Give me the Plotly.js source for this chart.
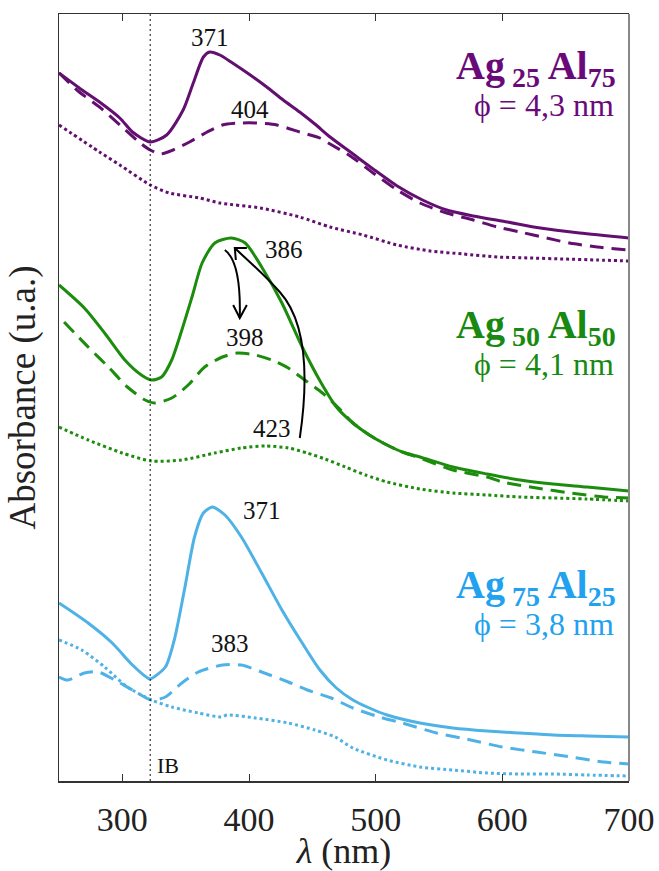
<!DOCTYPE html>
<html>
<head>
<meta charset="utf-8">
<script src="https://cdn.plot.ly/plotly-3.0.1.min.js"></script>
<style>html,body{margin:0;padding:0;background:#fff;}#chart{width:659px;height:871px;}</style>
</head>
<body>
<div id="chart"></div>
<script>
// ---- Ag25Al75 (purple) ----
const p_solid_x = [250,266,282,298,308,322,335,348,356,364,369,377,387,401,414,427,440,452,464,480,498,517,537,556,577,604,630,661,700];
const p_solid_y = [7.08,6.93,6.79,6.63,6.49,6.39,6.46,6.71,6.98,7.24,7.29,7.26,7.18,7.06,6.94,6.81,6.69,6.57,6.44,6.29,6.12,5.95,5.81,5.71,5.65,5.59,5.53,5.48,5.43];
const p_dash_x = [250,266,282,298,314,322,330,340,353,367,379,393,406,422,440,456,464,480,498,517,535,556,577,596,614,635,653,675,700];
const p_dash_y = [7.08,6.89,6.74,6.56,6.38,6.31,6.27,6.31,6.39,6.49,6.56,6.58,6.58,6.56,6.49,6.43,6.37,6.25,6.08,5.91,5.78,5.68,5.61,5.54,5.49,5.43,5.38,5.34,5.31];
const p_dot_x = [250,282,298,322,337,361,377,409,440,464,490,517,543,569,596,622,648,675,700];
const p_dot_y = [6.56,6.29,6.16,5.96,5.88,5.83,5.78,5.73,5.64,5.54,5.46,5.36,5.30,5.27,5.24,5.23,5.22,5.21,5.20];

// ---- Ag50Al50 (green) ----
const g_solid_x = [250,270,286,302,315,323,331,339,347,355,363,373,386,397,410,426,442,457,469,482,495,509,521,535,561,588,614,640,667,700];
const g_solid_y = [4.96,4.73,4.48,4.21,4.06,4.01,4.04,4.21,4.51,4.84,5.18,5.38,5.43,5.38,5.14,4.78,4.34,3.98,3.74,3.58,3.46,3.36,3.29,3.24,3.14,3.07,3.01,2.97,2.94,2.90];
const g_dash_x = [254,273,289,304,318,326,339,352,365,379,391,405,418,431,444,458,470,482,495,509,521,535,561,588,600,627,654,680,700];
const g_dash_y = [4.59,4.34,4.14,3.94,3.81,3.78,3.83,3.96,4.14,4.24,4.28,4.26,4.21,4.13,4.01,3.88,3.74,3.58,3.46,3.36,3.29,3.23,3.11,3.04,2.99,2.93,2.88,2.84,2.83];
const g_dot_x = [250,273,300,323,347,373,394,413,431,446,460,476,492,509,535,561,588,614,640,667,700];
const g_dot_y = [3.54,3.41,3.28,3.20,3.21,3.28,3.33,3.35,3.33,3.28,3.22,3.14,3.06,2.99,2.92,2.88,2.86,2.84,2.83,2.82,2.80];

// ---- Ag75Al25 (blue) ----
const b_solid_x = [250,273,292,308,320,322,334,341,349,357,364,371,381,394,410,426,442,456,469,482,495,509,535,561,588,614,640,667,700];
const b_solid_y = [1.78,1.58,1.38,1.16,1.03,1.02,1.14,1.41,1.91,2.44,2.68,2.74,2.66,2.44,2.08,1.71,1.38,1.11,0.93,0.81,0.73,0.66,0.58,0.53,0.50,0.48,0.46,0.45,0.44];
const b_dash_x = [250,257,270,281,294,308,323,334,347,360,379,394,410,431,446,465,482,503,521,548,575,600,627,654,680,700];
const b_dash_y = [1.04,1.01,1.08,1.09,1.01,0.91,0.81,0.84,0.98,1.09,1.16,1.16,1.09,0.99,0.91,0.83,0.73,0.64,0.58,0.48,0.41,0.34,0.29,0.24,0.19,0.17];
const b_dot_x = [250,268,286,304,323,339,360,378,383,405,431,452,468,482,509,535,561,588,614,640,667,700];
const b_dot_y = [1.41,1.31,1.14,0.94,0.81,0.74,0.68,0.64,0.66,0.63,0.58,0.51,0.44,0.33,0.21,0.14,0.11,0.08,0.07,0.07,0.06,0.05];

// tick labels
const xTicks = [300,400,500,600,700];
const xTickText = ['300','400','500','600','700'];

// peak labels [x, y, text]
const peakLabels = [
  [369, 7.44, '371'], [400.6, 6.72, '404'],
  [427.5, 5.32, '386'], [396.8, 4.44, '398'], [418.1, 3.53, '423'],
  [410.1, 2.71, '371'], [384.9, 1.38, '383']
];
const ibX = 322;

const PURPLE = '#620f70', GREEN = '#1b8c0c', BLUE = '#4fb2e6';
const PURPLE_T = '#6a0a7a', GREEN_T = '#188a12', BLUE_T = '#22a2ee';
const LW = 3;
const DASH = '14px,8px', DOT = '3px,3px';

function tr(x, y, color, dash) {
  return {x: x, y: y, type: 'scatter', mode: 'lines', hoverinfo: 'skip', showlegend: false,
    line: {color: color, width: LW, dash: dash, shape: 'spline', smoothing: 0.7}};
}

const data = [
  tr(p_dot_x, p_dot_y, PURPLE, DOT), tr(p_dash_x, p_dash_y, PURPLE, DASH), tr(p_solid_x, p_solid_y, PURPLE, 'solid'),
  tr(g_dot_x, g_dot_y, GREEN, DOT), tr(g_dash_x, g_dash_y, GREEN, DASH), tr(g_solid_x, g_solid_y, GREEN, 'solid'),
  tr(b_dot_x, b_dot_y, BLUE, DOT), tr(b_dash_x, b_dash_y, BLUE, DASH), tr(b_solid_x, b_solid_y, BLUE, 'solid')
];

const SERIF = 'Liberation Serif, Times New Roman, serif';
const annotations = peakLabels.map(p => ({x: p[0], y: p[1], xref: 'x', yref: 'y', text: p[2], showarrow: false,
  font: {family: SERIF, size: 25, color: '#111'}, xanchor: 'center', yanchor: 'middle'}));
annotations.push({x: 336, y: 0.16, xref: 'x', yref: 'y', text: 'IB', showarrow: false,
  font: {family: SERIF, size: 22, color: '#111'}, xanchor: 'center', yanchor: 'middle'});

function sampleLabel(yTop, yPhi, a, b, phi, col) {
  annotations.push({x: 691, y: yTop, xref: 'x', yref: 'y', showarrow: false, xanchor: 'right', yanchor: 'middle',
    text: '<b>Ag<sub> ' + a + '</sub> Al<sub>' + b + '</sub></b>', font: {family: SERIF, size: 40, color: col}});
  annotations.push({x: 690, y: yPhi, xref: 'x', yref: 'y', showarrow: false, xanchor: 'right', yanchor: 'middle',
    text: 'ϕ = ' + phi + ' nm', font: {family: SERIF, size: 32, color: col}});
}
sampleLabel(7.13, 6.76, '25', '75', '4,3', PURPLE_T);
sampleLabel(4.54, 4.17, '50', '50', '4,1', GREEN_T);
sampleLabel(1.94, 1.57, '75', '25', '3,8', BLUE_T);

const shapes = [
  {type: 'line', xref: 'x', yref: 'paper', x0: ibX, x1: ibX, y0: 0, y1: 1, line: {color: '#111', width: 1, dash: '2px,3px'}},
  {type: 'line', xref: 'paper', yref: 'paper', x0: 1, x1: 1, y0: 0, y1: 1, line: {color: '#888', width: 2}},
  // arrow 386 -> 398
  {type: 'path', xref: 'x', yref: 'y', path: 'M 380.9,5.31 Q 393.9,5.19 392.7,4.63', line: {color: '#000', width: 2}},
  {type: 'path', xref: 'x', yref: 'y', path: 'M 387.5,4.76 L 392.7,4.63 L 398.3,4.76', line: {color: '#000', width: 2}},
  // arrow 423 -> 386
  {type: 'path', xref: 'x', yref: 'y', path: 'M 440.1,3.43 C 448.0,4.11 444.1,4.61 424.3,4.89 C 408.5,5.11 396.7,5.23 388.8,5.33', line: {color: '#000', width: 2}},
  {type: 'path', xref: 'x', yref: 'y', path: 'M 398.3,5.33 L 388.8,5.33 L 389.6,5.21', line: {color: '#000', width: 2}}
];

const layout = {
  width: 659, height: 871,
  margin: {l: 59, r: 30, t: 14, b: 90},
  paper_bgcolor: '#fff', plot_bgcolor: '#fff',
  showlegend: false,
  xaxis: {range: [250, 700], tickvals: xTicks, ticktext: xTickText, ticks: 'inside', ticklen: 7, tickwidth: 1,
    tickcolor: '#333', showline: true, linecolor: '#333', linewidth: 1.5, mirror: 'ticks', showgrid: false, zeroline: false,
    tickfont: {family: SERIF, size: 34, color: '#222'}, ticklabelstandoff: 8,
    title: {text: '<i>λ</i> (nm)', font: {family: SERIF, size: 36, color: '#222'}, standoff: 2}},
  yaxis: {range: [0, 7.67], showticklabels: false, ticks: '', showline: true, linecolor: '#333', linewidth: 1.5,
    mirror: false, showgrid: false, zeroline: false,
    title: {text: 'Absorbance (u.a.)', font: {family: SERIF, size: 37, color: '#222'}, standoff: 10}},
  annotations: annotations,
  shapes: shapes
};

Plotly.newPlot('chart', data, layout, {displayModeBar: false, staticPlot: true});
</script>
</body>
</html>
